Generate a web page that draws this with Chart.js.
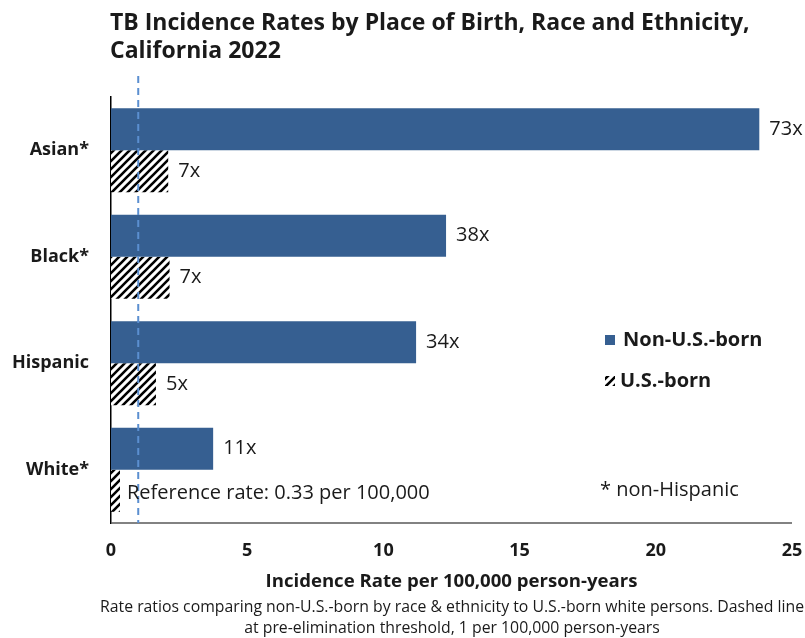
<!DOCTYPE html>
<html>
<head>
<meta charset="utf-8">
<script src="https://cdn.jsdelivr.net/npm/chart.js@4.4.1/dist/chart.umd.min.js"></script>
<style>
  html, body { margin: 0; padding: 0; background: #fff; }
  #wrap { width: 805px; height: 638px; position: relative; }
</style>
</head>
<body>
<div id="wrap"><canvas id="tbChart" width="805" height="638"></canvas></div>
<script>
const groups = ["Asian*", "Black*", "Hispanic", "White*"];
const nonUsBorn = [23.8, 12.3, 11.2, 3.75];
const usBorn = [2.1, 2.15, 1.65, 0.33];
const nonUsRatios = ["73x", "38x", "34x", "11x"];
const usRatios = ["7x", "7x", "5x", ""];
const xTicks = [0, 5, 10, 15, 20, 25];
const threshold = 1;

const FONT = "'Open Sans', Lato, sans-serif";
const INK = "#1a1a1a";
const BLUE = "#365f91";

const ctx = document.getElementById("tbChart");

function makeHatch() {
  const c = document.createElement("canvas");
  c.width = 8;
  c.height = 8;
  const g = c.getContext("2d");
  g.fillStyle = "#fff";
  g.fillRect(0, 0, 8, 8);
  g.strokeStyle = "#000";
  g.lineWidth = 2.6;
  g.beginPath();
  g.moveTo(-1, 9); g.lineTo(9, -1);
  g.moveTo(-3, 3); g.lineTo(3, -3);
  g.moveTo(5, 11); g.lineTo(11, 5);
  g.stroke();
  return ctx.getContext("2d").createPattern(c, "repeat");
}
const hatch = makeHatch();

// title, labels, dashed line, legend, notes
const extras = {
  id: "extras",
  afterDatasetsDraw(chart) {
    const c = chart.ctx;
    const x = chart.scales.x;
    const area = chart.chartArea;

    c.save();
    // x axis line
    c.strokeStyle = "#595959";
    c.lineWidth = 1.5;
    c.beginPath();
    c.moveTo(x.getPixelForValue(xTicks[0]), area.bottom);
    c.lineTo(x.getPixelForValue(xTicks[xTicks.length - 1]), area.bottom);
    c.stroke();

    // bar value labels
    c.fillStyle = INK;
    c.font = "20px " + FONT;
    c.textBaseline = "middle";
    c.textAlign = "left";
    [nonUsRatios, usRatios].forEach((labels, di) => {
      chart.getDatasetMeta(di).data.forEach((bar, i) => {
        if (labels[i]) c.fillText(labels[i], bar.x + 10, bar.y);
      });
    });

    // pre-elimination threshold
    const tx = x.getPixelForValue(threshold);
    c.strokeStyle = "#5b8fd0";
    c.lineWidth = 2;
    c.setLineDash([7, 5]);
    c.beginPath();
    c.moveTo(tx, 76);
    c.lineTo(tx, area.bottom);
    c.stroke();
    c.setLineDash([]);

    // notes inside plot
    c.fillStyle = INK;
    c.font = "20px " + FONT;
    c.fillText("Reference rate: 0.33 per 100,000", 127, 493);
    c.fillText("* non-Hispanic", 600, 490);

    // legend
    c.font = "bold 20px " + FONT;
    c.fillStyle = BLUE;
    c.fillRect(605, 335, 10, 10);
    c.fillStyle = INK;
    c.fillText(chart.data.datasets[0].label, 623, 340);
    c.fillStyle = hatch;
    c.fillRect(605, 376, 10, 10);
    c.fillStyle = INK;
    c.fillText(chart.data.datasets[1].label, 620, 381);

    // title
    c.font = "bold 23px " + FONT;
    c.textBaseline = "alphabetic";
    c.fillText("TB Incidence Rates by Place of Birth, Race and Ethnicity,", 110, 30);
    c.fillText("California 2022", 110, 58);

    // caption
    c.font = "15.8px " + FONT;
    c.textAlign = "center";
    c.textBaseline = "middle";
    c.fillText("Rate ratios comparing non-U.S.-born by race & ethnicity to U.S.-born white persons. Dashed line", 452, 607);
    c.fillText("at pre-elimination threshold, 1 per 100,000 person-years", 452, 628);
    c.restore();
  },
};

new Chart(ctx, {
  type: "bar",
  data: {
    labels: groups,
    datasets: [
      {
        label: "Non-U.S.-born",
        data: nonUsBorn,
        backgroundColor: BLUE,
        borderWidth: 0,
        categoryPercentage: 0.79,
        barPercentage: 1.0,
      },
      {
        label: "U.S.-born",
        data: usBorn,
        backgroundColor: hatch,
        borderWidth: 0,
        categoryPercentage: 0.79,
        barPercentage: 1.0,
      },
    ],
  },
  options: {
    indexAxis: "y",
    responsive: false,
    animation: false,
    layout: {
      padding: { top: 97, right: 13, bottom: 45, left: 0 },
    },
    plugins: {
      legend: { display: false },
      tooltip: { enabled: false },
      title: { display: false },
    },
    scales: {
      x: {
        min: 0,
        max: 25,
        afterBuildTicks: (scale) => {
          scale.ticks = xTicks.map((v) => ({ value: v }));
        },
        afterFit: (scale) => {
          scale.height = 70;
          scale.paddingRight = 0;
          scale.paddingLeft = 0;
        },
        grid: { display: false, drawTicks: false },
        border: { display: false },
        ticks: {
          color: INK,
          padding: 17,
          maxRotation: 0,
          font: { family: FONT, size: 18, weight: "bold" },
        },
        title: {
          display: true,
          text: "Incidence Rate per 100,000 person-years",
          color: INK,
          padding: { top: 0, bottom: 0 },
          font: { family: FONT, size: 18.6, weight: "bold" },
        },
      },
      y: {
        afterFit: (scale) => {
          scale.width = 111;
        },
        grid: { display: false, drawTicks: false },
        border: { display: true, color: "#000", width: 1.5 },
        ticks: {
          color: INK,
          padding: 22,
          font: { family: FONT, size: 18, weight: "bold" },
        },
      },
    },
  },
  plugins: [extras],
});
</script>
</body>
</html>
